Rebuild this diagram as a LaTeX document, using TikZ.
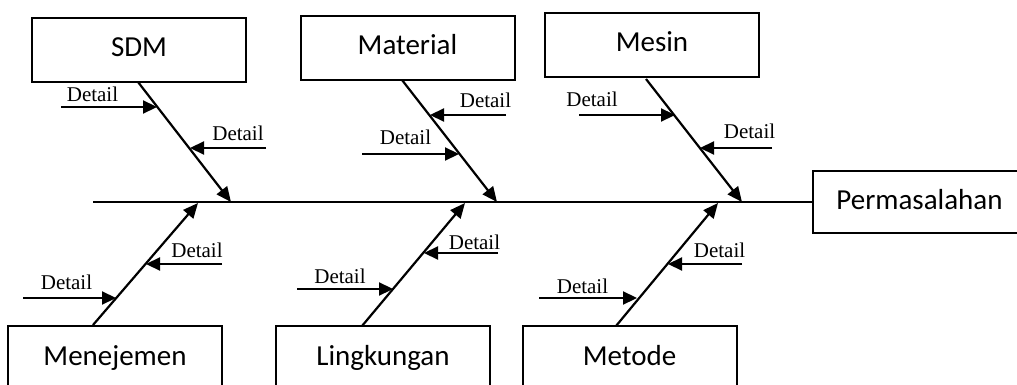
\documentclass[tikz,border=0pt]{standalone}
\usepackage{fontspec}
\setmainfont{Liberation Serif}
\newfontfamily\boxfont{Carlito}
\usetikzlibrary{arrows.meta}

\tikzset{
  catbox/.style={draw, line width=2pt, minimum width=214pt, minimum height=64pt,
    inner sep=0pt, text height=20pt, text depth=6pt,
    font=\boxfont\fontsize{29}{34}\selectfont},
  bone/.style={line width=2.2pt, -{Triangle[length=15pt,width=13pt]}},
  detail/.style={line width=2.2pt, -{Triangle[length=14pt,width=13pt]}},
  dlabel/.style={anchor=base, inner sep=0pt, font=\fontsize{21}{24}\selectfont},
  spine/.style={line width=1.2pt}
}

\begin{document}
\begin{tikzpicture}[x=1pt, y=-1pt]
\useasboundingbox (0,0) rectangle (1017,385);
\clip (0,0) rectangle (1017,385);

% cause categories (top row)
\node[catbox] (sdm) at (139,50) {SDM};
\node[catbox] (mat) at (407.5,48) {Material};
\node[catbox] (mes) at (652,45) {Mesin};
% cause categories (bottom row, cut by the page edge)
\node[catbox] (men) at (115,358) {Menejemen};
\node[catbox] (lin) at (383,358) {Lingkungan};
\node[catbox] (met) at (629.5,358) {Metode};
% effect
\node[catbox, minimum width=213pt, minimum height=62pt, anchor=west] (perm) at (812,202) {Permasalahan};

% spine
\coordinate (tail) at (93,202);
\draw[spine] (tail) -- (perm.west);

% bone start points on the boxes and tips on the spine
\coordinate (sdmA) at (138,82);  \coordinate (sdmB) at (231,202);
\coordinate (matA) at (402,80);  \coordinate (matB) at (497,202);
\coordinate (mesA) at (646,79);  \coordinate (mesB) at (742,202);
\coordinate (menA) at (93,325);  \coordinate (menB) at (198,203);
\coordinate (linA) at (362,326); \coordinate (linB) at (465,203);
\coordinate (metA) at (616,326); \coordinate (metB) at (718,203);

\draw[bone] (sdmA) -- (sdmB);
\draw[bone] (matA) -- (matB);
\draw[bone] (mesA) -- (mesB);
\draw[bone] (menA) -- (menB);
\draw[bone] (linA) -- (linB);
\draw[bone] (metA) -- (metB);

% detail arrows: free end and tip on the bone
\coordinate (s1a) at (61,107);  \coordinate (s1b) at (157,107);
\coordinate (s2a) at (266,148); \coordinate (s2b) at (190,148);
\coordinate (m1a) at (506,115); \coordinate (m1b) at (430,115);
\coordinate (m2a) at (362,154); \coordinate (m2b) at (459,154);
\coordinate (e1a) at (579,115); \coordinate (e1b) at (675,115);
\coordinate (e2a) at (772,148); \coordinate (e2b) at (700,148);
\coordinate (n1a) at (23,298);  \coordinate (n1b) at (116,298);
\coordinate (n2a) at (222,264); \coordinate (n2b) at (146,264);
\coordinate (l1a) at (297,289); \coordinate (l1b) at (393,289);
\coordinate (l2a) at (498,253); \coordinate (l2b) at (424,253);
\coordinate (t1a) at (539,298); \coordinate (t1b) at (637,298);
\coordinate (t2a) at (742,264); \coordinate (t2b) at (668,264);

\foreach \d in {s1,s2,m1,m2,e1,e2,n1,n2,l1,l2,t1,t2}
  \draw[detail] (\d a) -- (\d b);

% detail labels
\node[dlabel] (ls1) at (92.5,102) {Detail};
\node[dlabel] (ls2) at (238,140) {Detail};
\node[dlabel] (lm1) at (485.5,108) {Detail};
\node[dlabel] (lm2) at (405.5,145) {Detail};
\node[dlabel] (le1) at (592,107) {Detail};
\node[dlabel] (le2) at (749.5,139) {Detail};
\node[dlabel] (ln1) at (66.5,289) {Detail};
\node[dlabel] (ln2) at (197,257) {Detail};
\node[dlabel] (ll1) at (340,283) {Detail};
\node[dlabel] (ll2) at (474.5,249) {Detail};
\node[dlabel] (lt1) at (582.5,293) {Detail};
\node[dlabel] (lt2) at (719.5,257) {Detail};
\end{tikzpicture}
\end{document}
